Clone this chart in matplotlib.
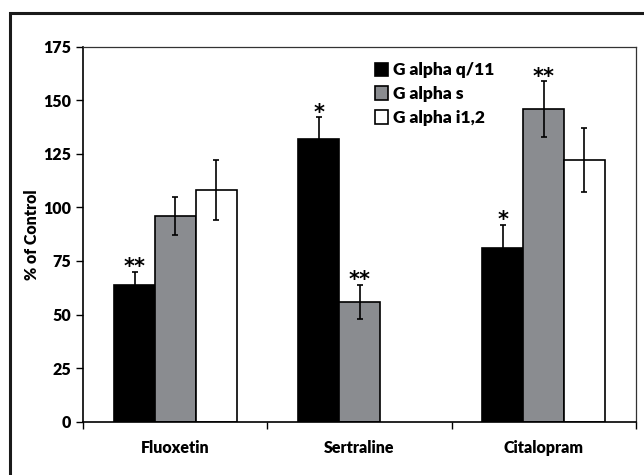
import numpy as np
import matplotlib
matplotlib.use('Agg')
import matplotlib.pyplot as plt
from matplotlib.patches import Patch, Rectangle

categories = ['Fluoxetin', 'Sertraline', 'Citalopram']
series_names = ['G alpha q/11', 'G alpha s', 'G alpha i1,2']
q11_vals = [64, 132, 81]
q11_err = [6, 10, 11]
gs_vals = [96, 56, 146]
gs_err = [9, 8, 13]
gi_vals = [108, np.nan, 122]
gi_err = [14, np.nan, 15]
q11_stars = ['**', '*', '*']
gs_stars = ['', '**', '**']
gi_stars = ['', '', '']
y_ticks = [0, 25, 50, 75, 100, 125, 150, 175]

plt.rcParams['font.family'] = ['Lato', 'DejaVu Sans']
plt.rcParams['font.weight'] = 'heavy'
fw = 'heavy'

fig = plt.figure(figsize=(6.44, 4.75), dpi=100)
ax = fig.add_axes([0.1295, 0.1122, 0.8575, 0.7895])

# outer frame, runs off the right and bottom edges
fig.patches.append(Rectangle((0.016, -0.05), 1.1, 1.023, transform=fig.transFigure,
                             fill=False, edgecolor='#1a1a1a', linewidth=2.2))

x = np.arange(len(categories))
width = 1 / 4.5
colors = ['black', '#8a8c90', 'white']
all_vals = [q11_vals, gs_vals, gi_vals]
all_err = [q11_err, gs_err, gi_err]
all_stars = [q11_stars, gs_stars, gi_stars]

for i in range(3):
    pos = x + (i - 1) * width
    ax.bar(pos, all_vals[i], width, color=colors[i], edgecolor='black', linewidth=1.2,
           zorder=2)
    ax.errorbar(pos, all_vals[i], yerr=all_err[i], fmt='none', ecolor='black',
                elinewidth=1.2, capsize=2, capthick=1.2, zorder=3)
    for p, v, e, s in zip(pos, all_vals[i], all_err[i], all_stars[i]):
        if s:
            ax.annotate(s, (p, v + e), xytext=(0, -4), textcoords='offset points',
                        ha='center', va='bottom', fontsize=15, fontweight='bold',
                        family='DejaVu Sans')

ax.set_xlim(-0.5, 2.5)
ax.set_ylim(0, 175)
ax.set_yticks(y_ticks)
ax.set_yticklabels([str(t) for t in y_ticks], fontsize=11.5, fontweight=fw)
ax.set_xticks([-0.5, 0.5, 1.5, 2.5])
ax.set_xticklabels([])
ax.set_xticks(x, minor=True)
ax.set_xticklabels(categories, minor=True, fontsize=11.5, fontweight=fw)
ax.tick_params(axis='x', which='major', direction='out', length=5, width=1)
ax.tick_params(axis='x', which='minor', length=0, pad=13)
ax.tick_params(axis='y', direction='out', length=5, width=1, pad=4)
ax.set_ylabel('% of Control', fontsize=11.5, fontweight=fw, labelpad=2)

for side in ['left', 'bottom']:
    ax.spines[side].set_color('black')
    ax.spines[side].set_linewidth(1.2)
for side in ['top', 'right']:
    ax.spines[side].set_color('#333333')
    ax.spines[side].set_linewidth(0.9)

handles = [Patch(facecolor=c, edgecolor='black', linewidth=1.2) for c in colors]
ax.legend(handles, series_names, loc='upper left', bbox_to_anchor=(0.5, 1.0),
          frameon=False, handlelength=0.75, handleheight=0.8,
          handletextpad=0.3, labelspacing=0.45, prop={'weight': fw, 'size': 12.5})

fig.savefig('out.png', dpi=100)
